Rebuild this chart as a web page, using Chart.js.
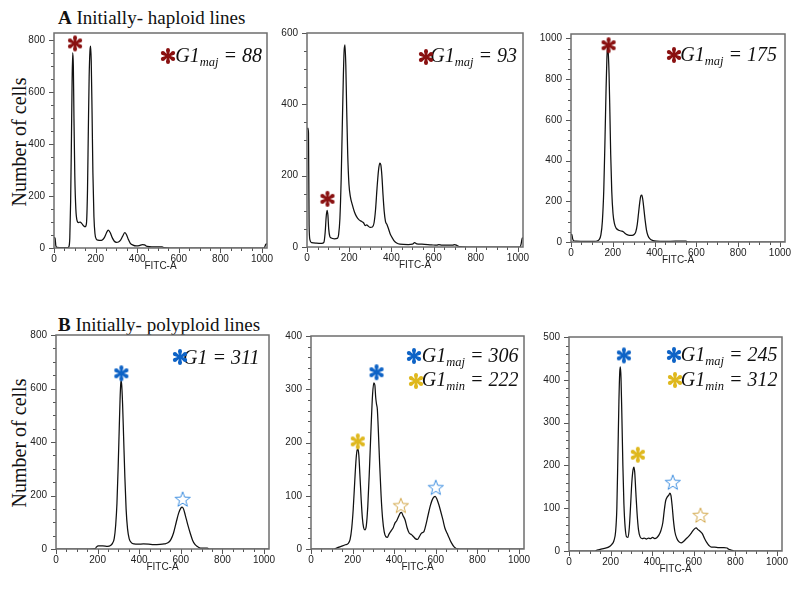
<!DOCTYPE html>
<html><head><meta charset="utf-8">
<script src="https://cdn.jsdelivr.net/npm/chart.js@4.4.1/dist/chart.umd.min.js"></script>
<style>
html,body{margin:0;padding:0;background:#fff;}
body{width:800px;height:592px;position:relative;overflow:hidden;font-family:"Liberation Serif","Times New Roman",serif;color:#111;}
canvas.chart{position:absolute;}
canvas.mk{position:absolute;}
.title{position:absolute;font-size:19px;line-height:19px;white-space:nowrap;}
.ylab{position:absolute;width:200px;height:20px;font-size:20px;line-height:20px;text-align:center;white-space:nowrap;transform:rotate(-90deg);transform-origin:50% 50%;}
.g1{position:absolute;font-style:italic;font-size:20px;line-height:20px;white-space:nowrap;text-align:right;}
.g1 sub{font-size:12.5px;vertical-align:-4px;line-height:0;}
</style>
</head><body>
<div class="title" style="left:58px;top:7.5px;"><b>A</b> Initially- haploid lines</div>
<div class="title" style="left:58px;top:315px;"><b>B</b> Initially- polyploid lines</div>
<div class="ylab" style="left:-81.5px;top:131.5px;">Number of cells</div>
<div class="ylab" style="left:-81.5px;top:432.5px;">Number of cells</div>
<script>
// ---------- data ----------
const X_TICKS = [0,200,400,600,800,1000];

const A1_Y_TICKS = [0,200,400,600,800];
const A2_Y_TICKS = [0,200,400,600];
const A3_Y_TICKS = [0,200,400,600,800,1000];
const B1_Y_TICKS = [0,200,400,600,800];
const B2_Y_TICKS = [0,100,200,300,400];
const B3_Y_TICKS = [0,100,200,300,400,500];

// histogram curves: [FITC-A, number of cells]
const A1_CURVE = [[0,40],[5,38],[9,8],[15,2],[40,1],[65,1],[72,6],[76,40],[80,180],[84,430],[87,640],[90,752],[93,700],[96,500],[100,280],[105,150],[111,105],[118,98],[126,100],[134,94],[142,86],[150,82],[156,95],[161,220],[165,450],[169,660],[173,760],[176,777],[179,720],[183,520],[187,290],[192,120],[197,55],[203,35],[212,30],[222,29],[232,31],[242,40],[252,58],[261,69],[270,60],[280,40],[290,26],[300,22],[310,23],[320,30],[330,45],[340,59],[348,52],[357,34],[367,18],[380,11],[395,8],[410,9],[425,13],[435,12],[448,6],[470,4],[520,4],[528,1],[560,0],[1005,0],[1012,2],[1018,14],[1024,16]];
const A2_CURVE = [[0,330],[4,333],[7,320],[10,60],[14,20],[22,12],[45,11],[70,10],[80,13],[86,40],[91,85],[95,103],[99,90],[103,50],[108,30],[115,25],[130,23],[143,24],[150,35],[156,80],[162,190],[167,330],[172,470],[176,550],[180,567],[184,510],[188,390],[193,260],[199,175],[206,140],[215,118],[225,98],[235,85],[247,76],[258,72],[268,68],[276,60],[283,62],[291,58],[300,55],[310,56],[318,68],[325,105],[332,165],[339,215],[345,235],[350,230],[355,200],[360,150],[366,100],[372,72],[379,63],[386,52],[394,37],[403,27],[413,17],[425,11],[440,8],[480,7],[500,8],[510,12],[520,9],[545,8],[590,6],[615,5],[625,7],[640,5],[690,5],[700,7],[712,4],[725,1],[760,0],[1008,0],[1014,6],[1020,24],[1024,26]];
const A3_CURVE = [[0,35],[4,38],[8,15],[13,6],[25,4],[70,3],[110,3],[125,5],[135,12],[143,35],[150,100],[157,260],[163,520],[168,760],[172,910],[175,959],[178,935],[182,830],[186,640],[190,430],[195,250],[201,140],[208,90],[216,68],[228,58],[240,54],[250,50],[258,43],[268,36],[280,33],[292,33],[302,37],[310,50],[317,85],[323,140],[329,195],[334,226],[339,230],[344,205],[349,160],[355,105],[361,60],[368,32],[378,15],[392,7],[410,4],[450,3],[500,4],[550,4],[560,1],[600,0],[1024,0]];
const B1_CURVE = [[0,0],[160,0],[188,1],[195,8],[203,12],[225,12],[248,10],[262,13],[272,22],[280,40],[287,90],[293,170],[299,310],[304,450],[308,560],[311,615],[313,629],[316,612],[320,545],[325,420],[331,270],[337,150],[344,75],[352,38],[362,24],[375,19],[395,18],[420,19],[445,18],[470,16],[500,17],[520,19],[538,23],[552,35],[565,60],[578,100],[590,135],[600,153],[606,157],[613,150],[622,125],[633,92],[645,60],[657,32],[668,17],[678,10],[690,4],[700,3],[728,3],[735,0],[1024,0]];
const B2_CURVE = [[0,0],[110,0],[125,2],[145,5],[165,8],[178,10],[188,18],[196,40],[203,75],[210,125],[217,170],[222,186],[226,188],[230,176],[235,140],[241,95],[247,58],[253,40],[259,36],[266,44],[273,80],[281,150],[289,230],[296,290],[302,312],[307,308],[311,285],[315,272],[319,262],[324,220],[330,160],[337,100],[344,58],[352,32],[360,23],[367,22],[375,28],[385,34],[395,40],[404,49],[412,53],[420,60],[428,67],[435,69],[442,63],[452,55],[462,40],[472,30],[483,27],[493,23],[503,19],[512,18],[522,24],[532,30],[542,32],[552,45],[562,62],[574,82],[586,95],[597,99],[605,94],[614,84],[624,70],[634,55],[644,39],[655,29],[665,20],[676,11],[688,4],[698,1],[715,0],[1024,0]];
const B3_CURVE = [[0,0],[125,0],[135,2],[150,4],[170,6],[190,9],[205,15],[216,24],[224,45],[230,100],[235,220],[240,350],[244,418],[247,430],[250,405],[254,320],[259,200],[264,110],[270,55],[277,33],[284,32],[290,55],[296,105],[302,160],[308,190],[312,196],[316,184],[321,140],[327,90],[334,50],[342,33],[352,29],[362,30],[372,28],[382,30],[392,29],[402,32],[412,29],[422,31],[432,37],[442,48],[451,66],[458,95],[465,118],[472,126],[479,130],[485,135],[490,130],[496,105],[502,72],[509,45],[518,30],[528,22],[539,19],[550,22],[562,28],[575,34],[588,42],[600,50],[611,54],[620,50],[630,46],[640,41],[651,30],[662,20],[673,13],[685,9],[700,9],[720,8],[745,8],[760,7],[768,4],[780,2],[795,0],[1024,0]];

// peak markers: [FITC-A, cells]
const A1_RED = [[101,788]];
const A2_RED = [[97,135]];
const A3_RED = [[180,967]];
const B1_BLUE = [[314,657]];
const B1_BLUE_OPEN = [[609,187]];
const B2_BLUE = [[315,332]];
const B2_GOLD = [[225,202]];
const B2_BLUE_OPEN = [[600,116]];
const B2_GOLD_OPEN = [[432,82]];
const B3_BLUE = [[264,457]];
const B3_GOLD = [[331,225]];
const B3_BLUE_OPEN = [[499,161]];
const B3_GOLD_OPEN = [[632,84]];

// G1 annotations
const A1_G1 = [['maj','88']];
const A2_G1 = [['maj','93']];
const A3_G1 = [['maj','175']];
const B1_G1 = [['','311']];
const B2_G1 = [['maj','306'],['min','222']];
const B3_G1 = [['maj','245'],['min','312']];

// ---------- styles ----------
const RED='#8a1111', BLUE='#0e63c6', GOLD='#dfb81e', BLUE_O='#3f8fe0', GOLD_O='#d2a74a';

function asteriskImg(color){
  const c=document.createElement('canvas'); c.width=20; c.height=20;
  const g=c.getContext('2d'); g.fillStyle=color;
  const cx=10, cy=10, R=6.0, hw0=0.9, hw1=1.95;
  for(let k=0;k<6;k++){
    const a=-Math.PI/2+k*Math.PI/3, ux=Math.cos(a), uy=Math.sin(a), px=-uy, py=ux;
    g.beginPath();
    g.moveTo(cx+px*hw0, cy+py*hw0);
    g.lineTo(cx+ux*R+px*hw1, cy+uy*R+py*hw1);
    g.lineTo(cx+ux*R-px*hw1, cy+uy*R-py*hw1);
    g.lineTo(cx-px*hw0, cy-py*hw0);
    g.closePath(); g.fill();
    g.beginPath(); g.arc(cx+ux*R, cy+uy*R, hw1, 0, Math.PI*2); g.fill();
  }
  g.beginPath(); g.arc(cx,cy,1.7,0,Math.PI*2); g.fill();
  return c;
}
function openStarImg(color){
  const c=document.createElement('canvas'); c.width=18; c.height=18;
  const g=c.getContext('2d'); g.strokeStyle=color; g.lineWidth=1;
  g.beginPath();
  for(let k=0;k<10;k++){
    const r=k%2?3.3:8, a=-Math.PI/2+k*Math.PI/5;
    const px=9+r*Math.cos(a), py=9.8+r*Math.sin(a);
    if(k) g.lineTo(px,py); else g.moveTo(px,py);
  }
  g.closePath(); g.stroke();
  return c;
}

const framePlugin = {
  id:'frame',
  afterDraw(chart){
    const {ctx, chartArea:a, scales} = chart;
    ctx.save();
    ctx.strokeStyle='#555'; ctx.lineWidth=1;
    scales.x.ticks.forEach(t=>{
      const p=Math.round(scales.x.getPixelForValue(t.value))+0.5, len=t.label?5:3;
      ctx.beginPath(); ctx.moveTo(p,a.bottom); ctx.lineTo(p,a.bottom+len); ctx.stroke();
    });
    scales.y.ticks.forEach(t=>{
      const p=Math.round(scales.y.getPixelForValue(t.value))+0.5, len=t.label?5:3;
      ctx.beginPath(); ctx.moveTo(a.left,p); ctx.lineTo(a.left-len,p); ctx.stroke();
    });
    ctx.strokeStyle='#6e6e6e'; ctx.lineWidth=1.5;
    ctx.strokeRect(a.left, a.top, a.right-a.left, a.bottom-a.top);
    ctx.restore();
  }
};

function stepRange(maxV, step){ const r=[]; for(let v=0; v<=maxV+1e-9; v+=step) r.push(v); return r; }
const pts = arr => arr.map(p=>({x:p[0], y:p[1]}));

const panels = [
  {frame:[54,33,267,248], yMax:828, yTicks:A1_Y_TICKS, yMinor:50, curve:A1_CURVE,
   marks:[[A1_RED,asteriskImg(RED)]], g1:A1_G1, g1Colors:[RED], g1Pos:[[262,61.7,168,56]]},
  {frame:[307,33,523,247], yMax:600, yTicks:A2_Y_TICKS, yMinor:50, curve:A2_CURVE,
   marks:[[A2_RED,asteriskImg(RED)]], g1:A2_G1, g1Colors:[RED], g1Pos:[[517,61.7,425.7,56.5]]},
  {frame:[571,34,785,242], yMax:1022, yTicks:A3_Y_TICKS, yMinor:50, curve:A3_CURVE,
   marks:[[A3_RED,asteriskImg(RED)]], g1:A3_G1, g1Colors:[RED], g1Pos:[[777,60.7,674,55]]},
  {frame:[56,335,269,549], yMax:800, yTicks:B1_Y_TICKS, yMinor:50, curve:B1_CURVE,
   marks:[[B1_BLUE,asteriskImg(BLUE)],[B1_BLUE_OPEN,openStarImg(BLUE_O)]], g1:B1_G1, g1Colors:[BLUE], g1Pos:[[259.5,363.3,180,356.7]]},
  {frame:[311,336,524,549], yMax:400, yTicks:B2_Y_TICKS, yMinor:20, curve:B2_CURVE,
   marks:[[B2_BLUE,asteriskImg(BLUE)],[B2_GOLD,asteriskImg(GOLD)],[B2_BLUE_OPEN,openStarImg(BLUE_O)],[B2_GOLD_OPEN,openStarImg(GOLD_O)]],
   g1:B2_G1, g1Colors:[BLUE,GOLD], g1Pos:[[518.5,361.7,414.3,356],[518.5,386,416,380.7]]},
  {frame:[569,337,782,551], yMax:500, yTicks:B3_Y_TICKS, yMinor:20, curve:B3_CURVE,
   marks:[[B3_BLUE,asteriskImg(BLUE)],[B3_GOLD,asteriskImg(GOLD)],[B3_BLUE_OPEN,openStarImg(BLUE_O)],[B3_GOLD_OPEN,openStarImg(GOLD_O)]],
   g1:B3_G1, g1Colors:[BLUE,GOLD], g1Pos:[[777.5,360.7,674,355],[777.5,385.7,675.3,380]]}
];

const tickFont = {family:'"Liberation Sans", Arial, sans-serif', size:10};
const YW=45, PT=10, PR=16, XH=24;

panels.forEach(pn=>{
  const [L,T,R,B]=pn.frame;
  const cv=document.createElement('canvas');
  cv.className='chart';
  cv.width=(R-L)+YW+PR; cv.height=(B-T)+PT+XH;
  cv.style.left=(L-YW)+'px'; cv.style.top=(T-PT)+'px';
  cv.style.width=cv.width+'px'; cv.style.height=cv.height+'px';
  document.body.appendChild(cv);

  const datasets=[{
    data:pts(pn.curve), borderColor:'#111', borderWidth:1.25, pointRadius:0,
    cubicInterpolationMode:'monotone', fill:false, order:2
  }];
  pn.marks.forEach(([arr,img])=>{
    datasets.push({data:pts(arr), showLine:false, pointStyle:img, pointRadius:9, order:1, clip:false});
  });

  new Chart(cv,{
    type:'line',
    data:{datasets},
    options:{
      responsive:false, animation:false, devicePixelRatio:1,
      layout:{padding:{left:0,top:PT,right:PR,bottom:0}},
      plugins:{legend:{display:false}, tooltip:{enabled:false}},
      events:[],
      scales:{
        x:{type:'linear', min:0, max:1024,
          afterBuildTicks:s=>{ s.ticks=stepRange(1000,50).map(v=>({value:v})); },
          afterFit:s=>{ s.height=XH; },
          ticks:{autoSkip:false, maxRotation:0, minRotation:0, padding:1, font:tickFont, color:'#222',
            callback:v=>X_TICKS.includes(v)?String(v):''},
          grid:{drawOnChartArea:false, tickLength:4, color:'rgba(0,0,0,0)'},
          border:{display:false},
          title:{display:true, text:'FITC-A', font:tickFont, color:'#222', padding:0}
        },
        y:{type:'linear', min:0, max:pn.yMax,
          afterBuildTicks:s=>{ s.ticks=stepRange(pn.yMax,pn.yMinor).map(v=>({value:v})); },
          afterFit:s=>{ s.width=YW; },
          ticks:{autoSkip:false, padding:4, font:tickFont, color:'#222',
            callback:v=>pn.yTicks.includes(v)?String(v):''},
          grid:{drawOnChartArea:false, tickLength:5, color:'rgba(0,0,0,0)'},
          border:{display:false}
        }
      }
    },
    plugins:[framePlugin]
  });

  // G1 annotation text
  pn.g1.forEach((g,i)=>{
    const [xEnd, baseY, ax, ay] = pn.g1Pos[i];
    const d=document.createElement('div');
    d.className='g1';
    d.style.right=(800-xEnd)+'px';
    d.style.top=(baseY-16.75)+'px';
    d.innerHTML='G1'+(g[0]?'<sub>'+g[0]+'</sub>':'')+' = '+g[1];
    document.body.appendChild(d);
    const m=asteriskImg(pn.g1Colors[i]);
    m.className='mk';
    m.style.left=(ax-10)+'px'; m.style.top=(ay-10)+'px';
    document.body.appendChild(m);
  });
});
</script>
</body></html>
